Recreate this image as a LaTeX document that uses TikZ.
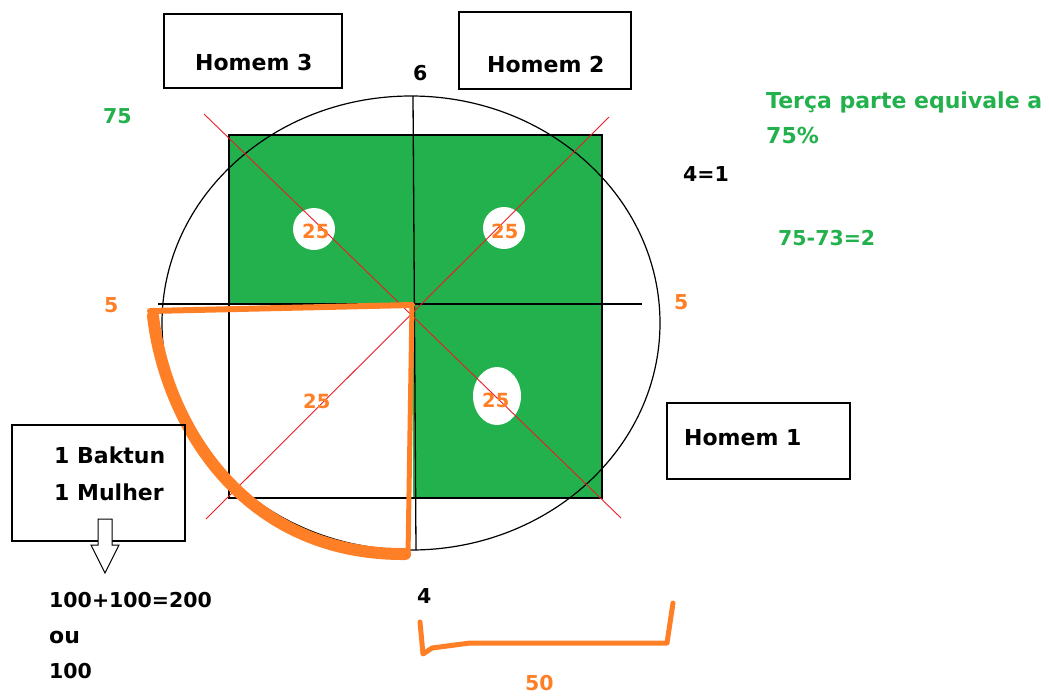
\documentclass[tikz,border=0pt]{standalone}
\usepackage{fontspec}
\setmainfont{DejaVu Sans}
\definecolor{pgreen}{HTML}{22B14C}
\definecolor{porange}{HTML}{FF7F27}
\definecolor{pred}{HTML}{ED1C24}
\tikzset{
  lbl/.style={anchor=base west, inner sep=0pt, font=\bfseries\fontsize{22}{26}\selectfont},
  num/.style={anchor=base west, inner sep=0pt, font=\bfseries\fontsize{20.5}{24}\selectfont},
  quarter/.style={anchor=base west, inner sep=0pt, text=porange, font=\bfseries\fontsize{19.5}{23}\selectfont},
  boxnode/.style={draw=black, line width=1.5pt, inner sep=0pt, anchor=north west},
  blackline/.style={draw=black, line width=1.3pt},
  redline/.style={draw=pred, line width=0.9pt},
  orangestroke/.style={draw=porange, line cap=round, line join=round},
}
\begin{document}
\begin{tikzpicture}[x=1pt,y=-1pt]
\useasboundingbox (0,0) rectangle (1049,697);
% geometry coordinates
\coordinate (sqTL) at (229,135);
\coordinate (sqBR) at (602,498);
\coordinate (qTL) at (229,305);
\coordinate (qBR) at (413,498);
\coordinate (hL) at (158,304);
\coordinate (hR) at (642,304);
\coordinate (vT) at (413,96);
\coordinate (vB) at (416,550);
\coordinate (ec) at (411,323);
% green square with white lower-left quadrant
\fill[pgreen] (sqTL) rectangle (sqBR);
\fill[white] (qTL) rectangle (qBR);
\draw[blackline] (sqTL) rectangle (sqBR);
\draw[blackline] (hL) -- (hR);
\draw[blackline] (vT) -- (vB);
% ellipse
\draw[black, line width=1.2pt] (ec) ellipse [x radius=249, y radius=227];
% white discs
\fill[white] (314,229) circle [radius=21];
\fill[white] (504,228) circle [radius=21];
\fill[white] (497,396) ellipse [x radius=24, y radius=29];
% red diagonals
\coordinate (r1a) at (204,114);
\coordinate (r1b) at (621,518);
\coordinate (r2a) at (609,117);
\coordinate (r2b) at (206,519);
\draw[redline] (r1a) -- (r1b);
\draw[redline] (r2a) -- (r2b);
% 25 labels
\node[quarter] (q1) at (302,238) {25};
\node[quarter] (q2) at (491,238) {25};
\node[quarter] (q3) at (482,407) {25};
\node[quarter] (q4) at (303,408) {25};
% orange hand drawn shape
\coordinate (oA) at (150,311);
\coordinate (oB) at (412,305);
\coordinate (oC) at (408,556);
\draw[orangestroke, line width=6pt] (oA) -- (oB);
\draw[orangestroke, line width=5pt] (oB) -- (oC);
\draw[orangestroke, line width=12pt] (153,316) .. controls (165,420) and (240,555) .. (405,554);
% orange bracket
\coordinate (bA) at (420,622);
\coordinate (bB) at (423,654);
\coordinate (bC) at (667,643);
\coordinate (bD) at (673,603);
\draw[orangestroke, line width=5pt] (bA) -- (bB) -- (432,648) -- (470,643) -- (bC) -- (bD);
% boxes
\node[boxnode, minimum width=178pt, minimum height=74pt] (box3) at (163,13) {};
\node[boxnode, minimum width=172pt, minimum height=77pt] (box2) at (458,11) {};
\node[boxnode, minimum width=183pt, minimum height=76pt] (box1) at (666,402) {};
\node[boxnode, minimum width=173pt, minimum height=116pt] (boxb) at (11,424) {};
% hollow arrow
\draw[black, line width=1pt, fill=white, line join=miter] (98,519) -- (112,519) -- (112,545) -- (119,545) -- (105,573) -- (91,545) -- (98,545) -- cycle;
% texts
\node[lbl] (t3) at (195,70) {Homem 3};
\node[lbl] (t2) at (487,72) {Homem 2};
\node[lbl] (t1) at (684,445) {Homem 1};
\node[num] (six) at (413,80) {6};
\node[num, text=pgreen] (s75) at (103,123) {75};
\node[num, text=porange] (fiveL) at (104,312) {5};
\node[num, text=porange] (fiveR) at (674,309) {5};
\node[lbl, text=pgreen] (terca) at (766,108) {Terça parte equivale a};
\node[lbl, text=pgreen] (pct) at (766,143) {75\%};
\node[num] (eq41) at (683,181) {4=1};
\node[num, text=pgreen] (diff) at (778,245) {75-73=2};
\node[lbl] (bak) at (54,463) {1 Baktun};
\node[lbl] (mul) at (54,500) {1 Mulher};
\node[num] (sum) at (49,607) {100+100=200};
\node[lbl] (ou) at (49,643) {ou};
\node[num] (hund) at (49,678) {100};
\node[num] (four) at (417,603) {4};
\node[num, text=porange] (fifty) at (525,690) {50};
\end{tikzpicture}
\end{document}
